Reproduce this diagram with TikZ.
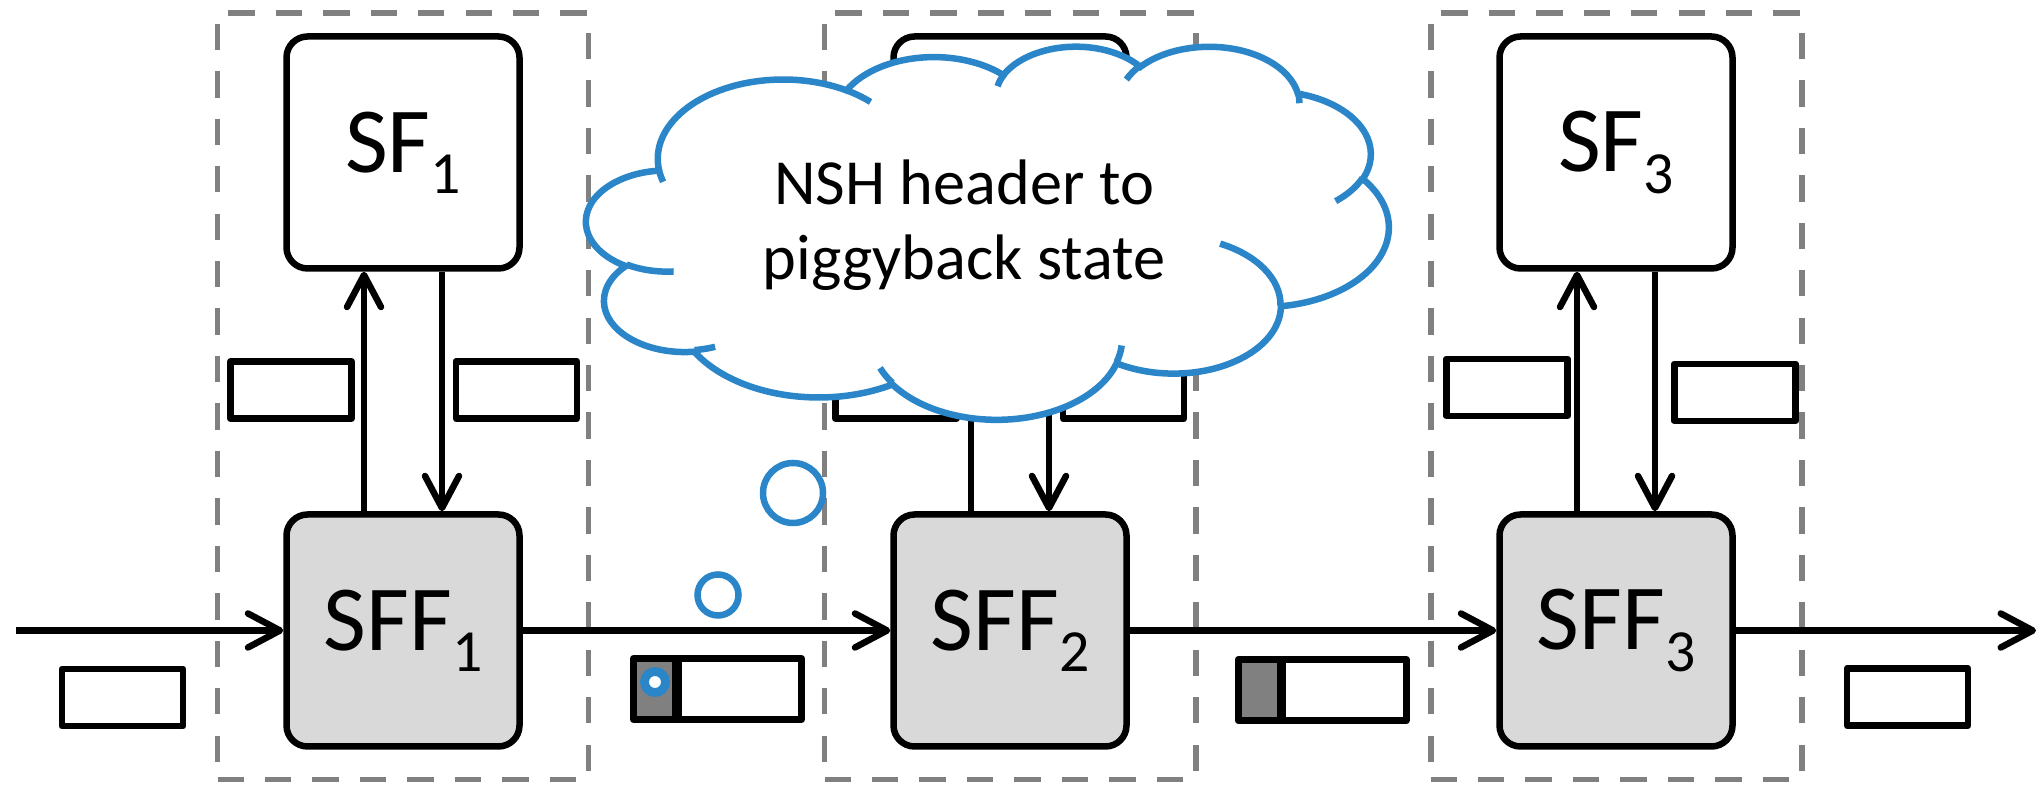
\documentclass[tikz,border=0pt]{standalone}
\usepackage{fontspec}
\setmainfont{Carlito}
\usepackage{xcolor}
\usepackage{tikz}
\usetikzlibrary{arrows.meta,positioning,calc}
\definecolor{nshblue}{HTML}{2A86C8}
\definecolor{fwdgray}{HTML}{D9D9D9}
\definecolor{midgray}{HTML}{808080}

\newcommand{\idx}[1]{\raisebox{-6pt}{\fontsize{17}{17}\selectfont #1}}
% office-style arc: x rad, y rad, start, sweep (1/60000 deg)
\newcommand{\vang}[3]{atand((#1)*sind((#3)/60000),(#2)*cosd((#3)/60000))}
\newcommand{\ooarc}[4]{arc[start angle=\fpeval{round(\vang{#1}{#2}{#3},3)},end angle=\fpeval{round(\vang{#1}{#2}{#3}+((\vang{#1}{#2}{#3+#4})-(\vang{#1}{#2}{#3}))-360*floor(((\vang{#1}{#2}{#3+#4})-(\vang{#1}{#2}{#3}))/360),3)},x radius=#1,y radius=#2] }

% cloud outline, 43.2 x 43.2 frame
\edef\cloudrim{%
  \ooarc{6.753}{9.19}{-11429249}{7426832}
  \ooarc{5.333}{7.267}{-8646143}{5396714}
  \ooarc{4.365}{5.945}{-8748475}{5983381}
  \ooarc{4.857}{6.595}{-7859164}{7034504}
  \ooarc{5.333}{7.273}{-4722533}{6541615}
  \ooarc{6.775}{9.22}{-2776035}{7816140}
  \ooarc{5.785}{7.867}{37501}{6842000}
  \ooarc{6.752}{9.215}{1347096}{6910353}
  \ooarc{7.72}{10.543}{3974558}{4542661}
  \ooarc{4.36}{5.918}{-16496525}{8804134}
  \ooarc{4.345}{5.945}{-14809710}{9151131}
  -- cycle}
% inner ticks of the puffs
\edef\cloudtick{%
  (4.693,26.177) \ooarc{4.345}{5.945}{5204520}{1585770}
  (6.928,34.899) \ooarc{4.36}{5.918}{4416628}{686848}
  (16.478,39.09) \ooarc{6.752}{9.215}{8257449}{844866}
  (28.827,34.751) \ooarc{6.752}{9.215}{387196}{959901}
  (34.129,22.954) \ooarc{5.785}{7.867}{-4217541}{4255042}
  (41.798,15.354) \ooarc{5.333}{7.273}{1819082}{1665090}
  (38.324,5.426) \ooarc{4.857}{6.595}{-824660}{891534}
  (29.078,3.952) \ooarc{4.857}{6.595}{-8950887}{1091722}
  (22.141,4.72) \ooarc{4.365}{5.945}{-9809656}{1061181}
  (14,5.192) \ooarc{6.753}{9.19}{-4002417}{739161}
  (4.127,15.789) \ooarc{6.753}{9.19}{9459261}{711490}}

\begin{document}
\begin{tikzpicture}[
  frame/.style={draw=midgray,line width=1.7pt,dash pattern=on 7.5pt off 6pt,minimum width=3.71cm,minimum height=7.66cm},
  sfbox/.style={draw,line width=1.85pt,rounded corners=6pt,fill=white,minimum width=2.33cm,minimum height=2.32cm,font=\fontsize{26.5}{30}\selectfont},
  sffbox/.style={sfbox,fill=fwdgray},
  pkt/.style={draw,line width=1.9pt,line join=round,fill=white,minimum width=1.21cm,minimum height=0.57cm,inner sep=0pt},
  hdrpkt/.style={pkt,line width=2pt,minimum width=1.68cm,minimum height=0.61cm,
    path picture={\fill[midgray] (path picture bounding box.south west) rectangle ([xshift=0.435cm]path picture bounding box.north west);
      \draw[line width=2.8pt] ([xshift=0.435cm]path picture bounding box.south west) -- ([xshift=0.435cm]path picture bounding box.north west);}},
  flow/.style={line width=1.85pt,-{Straight Barb[length=3.2mm,width=3.4mm,round]}},
  nshline/.style={draw=nshblue,line width=1.85pt},
  bubble/.style={circle,nshline,fill=white,inner sep=0pt},
]
  \useasboundingbox (0,0) rectangle (20.41,7.86);
  % one column per forwarder
  \foreach \i/\cx/\lbl/\lx/\ly/\rx/\ry in {1/4.03/{SF\idx{1}}/-1.12/3.96/1.135/3.96,
      2/10.10/{}/-1.14/3.96/1.135/3.96, 3/16.16/{SF\idx{3}}/-1.09/3.985/1.19/3.935} {
    \node[frame] (grp\i) at (\cx,3.895) {};
    \node[pkt] (up\i) at ({\cx+(\lx)},\ly) {};
    \node[pkt] (dn\i) at ({\cx+(\rx)},\ry) {};
    \node[sfbox] (sf\i) at (\cx,6.335) {\lbl};
    \node[sffbox] (sff\i) at (\cx,1.555) {SFF\idx{\i}};
    \draw[flow] ([xshift=-0.39cm]sff\i.north) -- ([xshift=-0.39cm]sf\i.south);
    \draw[flow] ([xshift=0.39cm]sf\i.south) -- ([xshift=0.39cm]sff\i.north);
  }
  % packet path
  \coordinate (src) at (0.16,1.555);
  \coordinate (dst) at (20.36,1.555);
  \draw[flow] (src) -- (sff1);
  \draw[flow] (sff1) -- (sff2);
  \draw[flow] (sff2) -- (sff3);
  \draw[flow] (sff3) -- (dst);
  \node[pkt] (p0) at (1.225,0.885) {};
  \node[hdrpkt] (p1) at (7.175,0.97) {};
  \node[hdrpkt] (p2) at (13.22,0.96) {};
  \node[pkt] (p3) at (19.075,0.89) {};
  \node[bubble,line width=2.5pt,minimum size=0.21cm] (st) at ([xshift=0.25cm,yshift=0.07cm]p1.west) {};
  % thought cloud
  \begin{scope}[shift={(5.865cm,7.405cm)},x=0.18565cm,y=-0.08634cm]
    \draw[nshline,fill=white] (3.9,14.37) \cloudrim;
    \draw[nshline] \cloudtick;
  \end{scope}
  \node[font=\fontsize{18.3}{21.3}\selectfont,align=center] (note) at (9.64,5.61) {NSH header to\\piggyback state};
  \node[bubble,minimum size=0.60cm] (b1) at (7.93,2.93) {};
  \node[bubble,minimum size=0.41cm] (b2) at (7.18,1.91) {};
\end{tikzpicture}
\end{document}
